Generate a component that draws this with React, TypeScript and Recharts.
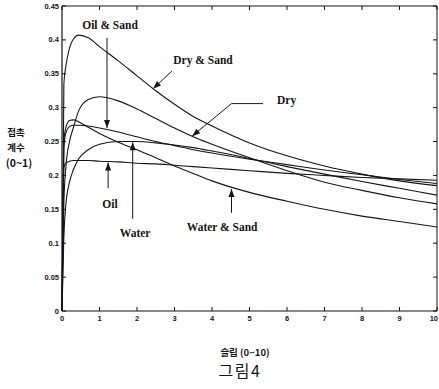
import { Line, LineChart, XAxis, YAxis } from "recharts";

// slip values (0~10)
const slip = [0, 0.05, 0.1, 0.2, 0.3, 0.45, 0.7, 1, 1.5, 2, 2.5, 3, 3.5, 4, 5, 6, 7, 8, 9, 10];

const drySand = [0, 0.335, 0.36, 0.388, 0.401, 0.407, 0.403, 0.39, 0.369, 0.347, 0.325, 0.305, 0.287, 0.273, 0.248, 0.229, 0.214, 0.202, 0.192, 0.185];
const dry = [0, 0.16, 0.21, 0.25, 0.27, 0.296, 0.312, 0.316, 0.31, 0.298, 0.284, 0.27, 0.257, 0.246, 0.226, 0.207, 0.19, 0.178, 0.167, 0.158];
const oilSand = [0, 0.24, 0.262, 0.272, 0.274, 0.274, 0.273, 0.27, 0.264, 0.257, 0.25, 0.244, 0.238, 0.233, 0.224, 0.216, 0.208, 0.201, 0.194, 0.188];
const waterSand = [0, 0.25, 0.27, 0.281, 0.282, 0.279, 0.271, 0.262, 0.249, 0.238, 0.226, 0.214, 0.203, 0.192, 0.175, 0.162, 0.15, 0.14, 0.132, 0.124];
const water = [0, 0.11, 0.155, 0.19, 0.208, 0.225, 0.238, 0.246, 0.25, 0.25, 0.248, 0.245, 0.241, 0.236, 0.225, 0.213, 0.202, 0.191, 0.181, 0.171];
const oil = [0, 0.212, 0.218, 0.221, 0.222, 0.222, 0.222, 0.221, 0.22, 0.218, 0.217, 0.215, 0.213, 0.211, 0.207, 0.203, 0.2, 0.197, 0.195, 0.193];

const xTicks = [0, 1, 2, 3, 4, 5, 6, 7, 8, 9, 10];
const yTicks = [0, 0.05, 0.1, 0.15, 0.2, 0.25, 0.3, 0.35, 0.4, 0.45];

const seriesKeys = ["drySand", "dry", "oilSand", "waterSand", "water", "oil"];

// label text, text anchor point and arrow path, all in data units
const notes = [
  { text: "Oil & Sand", at: [1.28, 0.416], arrow: [[1.2, 0.403], [1.2, 0.27]] },
  { text: "Dry & Sand", at: [3.76, 0.364], arrow: [[2.93, 0.354], [2.43, 0.328]] },
  { text: "Dry", at: [5.99, 0.305], arrow: [[5.36, 0.306], [4.52, 0.306], [3.47, 0.258]] },
  { text: "Oil", at: [1.28, 0.152], arrow: [[1.23, 0.181], [1.23, 0.219]] },
  { text: "Water", at: [1.95, 0.109], arrow: [[1.885, 0.136], [1.885, 0.249]] },
  { text: "Water & Sand", at: [4.27, 0.118], arrow: [[4.52, 0.145], [4.52, 0.18]] },
];

const W = 439;
const H = 389;
const LEFT = 62;
const RIGHT = 2;
const TOP = 6;
const BOTTOM = 78;
const INK = "#151515";

const px = (x: number) => LEFT + (x / 10) * (W - LEFT - RIGHT);
const py = (y: number) => TOP + ((0.45 - y) / 0.45) * (H - TOP - BOTTOM);

const tickFont = { fontSize: 7.5, fontWeight: "bold" as const, fontFamily: "Liberation Sans", fill: INK };

function BottomTick(props: any) {
  const { x, y, payload } = props;
  const last = payload.value === 10;
  return (
    <g>
      <line x1={x} y1={y} x2={x} y2={y - 4} stroke={INK} />
      <text x={last ? x + 1 : x} y={y + 10} textAnchor={last ? "end" : "middle"} {...tickFont}>
        {payload.value}
      </text>
    </g>
  );
}

function LeftTick(props: any) {
  const { x, y, payload } = props;
  return (
    <g>
      <line x1={x} y1={y} x2={x + 4} y2={y} stroke={INK} />
      <text x={x - 3} y={y + 2.5} textAnchor="end" {...tickFont}>
        {payload.value}
      </text>
    </g>
  );
}

function TopTick(props: any) {
  const { x, y } = props;
  return <line x1={x} y1={y} x2={x} y2={y + 4} stroke={INK} />;
}

function RightTick(props: any) {
  const { x, y } = props;
  return <line x1={x} y1={y} x2={x - 4} y2={y} stroke={INK} />;
}

function Arrow({ pts }: { pts: number[][] }) {
  const p = pts.map(([x, y]) => [px(x), py(y)]);
  const [x1, y1] = p[p.length - 2];
  const [x2, y2] = p[p.length - 1];
  const ang = Math.atan2(y2 - y1, x2 - x1);
  const len = 8;
  const half = 3;
  const bx = x2 - len * Math.cos(ang);
  const by = y2 - len * Math.sin(ang);
  const nx = -Math.sin(ang) * half;
  const ny = Math.cos(ang) * half;
  return (
    <g>
      <polyline points={p.map((q) => q.join(",")).join(" ")} fill="none" stroke={INK} strokeWidth={1} />
      <polygon points={`${x2},${y2} ${bx + nx},${by + ny} ${bx - nx},${by - ny}`} fill={INK} />
    </g>
  );
}

export default function App() {
  const data = slip.map((x, i) => ({
    x,
    drySand: drySand[i],
    dry: dry[i],
    oilSand: oilSand[i],
    waterSand: waterSand[i],
    water: water[i],
    oil: oil[i],
  }));

  return (
    <div style={{ position: "absolute", left: 0, top: 0, width: W, height: H, background: "#fff" }}>
      {/* frame axes need a size of at least 1px or recharts skips them */}
      <LineChart width={W} height={H} data={data} margin={{ top: TOP - 1, right: RIGHT - 1, left: 0, bottom: 0 }}>
        <XAxis
          dataKey="x"
          type="number"
          domain={[0, 10]}
          ticks={xTicks}
          interval={0}
          height={BOTTOM}
          tickSize={0}
          tickMargin={0}
          tick={<BottomTick />}
          axisLine={{ stroke: INK, strokeWidth: 1.2 }}
          tickLine={false}
        />
        <XAxis
          xAxisId="top"
          dataKey="x"
          orientation="top"
          type="number"
          domain={[0, 10]}
          ticks={xTicks}
          interval={0}
          height={1}
          tickSize={0}
          tickMargin={0}
          tick={<TopTick />}
          axisLine={{ stroke: INK, strokeWidth: 1 }}
          tickLine={false}
        />
        <YAxis
          type="number"
          domain={[0, 0.45]}
          ticks={yTicks}
          interval={0}
          width={LEFT}
          tickSize={0}
          tickMargin={0}
          tick={<LeftTick />}
          axisLine={{ stroke: INK, strokeWidth: 1.2 }}
          tickLine={false}
        />
        <YAxis
          yAxisId="right"
          orientation="right"
          type="number"
          domain={[0, 0.45]}
          ticks={yTicks}
          interval={0}
          width={1}
          tickSize={0}
          tickMargin={0}
          tick={<RightTick />}
          axisLine={{ stroke: INK, strokeWidth: 1 }}
          tickLine={false}
        />
        {seriesKeys.map((k) => (
          <Line
            key={k}
            type="monotone"
            dataKey={k}
            stroke={INK}
            strokeWidth={1.1}
            dot={false}
            isAnimationActive={false}
          />
        ))}
        {/* hidden series tied to the frame axes */}
        <Line
          xAxisId="top"
          yAxisId="right"
          type="monotone"
          dataKey="oil"
          stroke="none"
          dot={false}
          legendType="none"
          isAnimationActive={false}
        />
      </LineChart>
      <svg width={W} height={H} style={{ position: "absolute", left: 0, top: 0, pointerEvents: "none" }}>
        {notes.map((n) => (
          <g key={n.text}>
            <text
              x={px(n.at[0])}
              y={py(n.at[1])}
              textAnchor="middle"
              fontFamily="Liberation Serif"
              fontWeight="bold"
              fontSize={11.5}
              fill={INK}
            >
              {n.text}
            </text>
            <Arrow pts={n.arrow} />
          </g>
        ))}
        <g fontFamily="Noto Sans CJK KR" fontWeight="bold" fontSize={9.5} fill={INK} textAnchor="middle">
          <text x={16} y={136}>접촉</text>
          <text x={16} y={151}>계수</text>
          <text x={19} y={167} fontSize={10.5}>(0~1)</text>
          <text x={245} y={356} fontSize={9.5}>슬립 (0~10)</text>
        </g>
        <text x={240} y={377} textAnchor="middle" fontFamily="Noto Sans CJK KR" fontSize={16} letterSpacing={1.5} fill={INK}>
          그림4
        </text>
      </svg>
    </div>
  );
}
